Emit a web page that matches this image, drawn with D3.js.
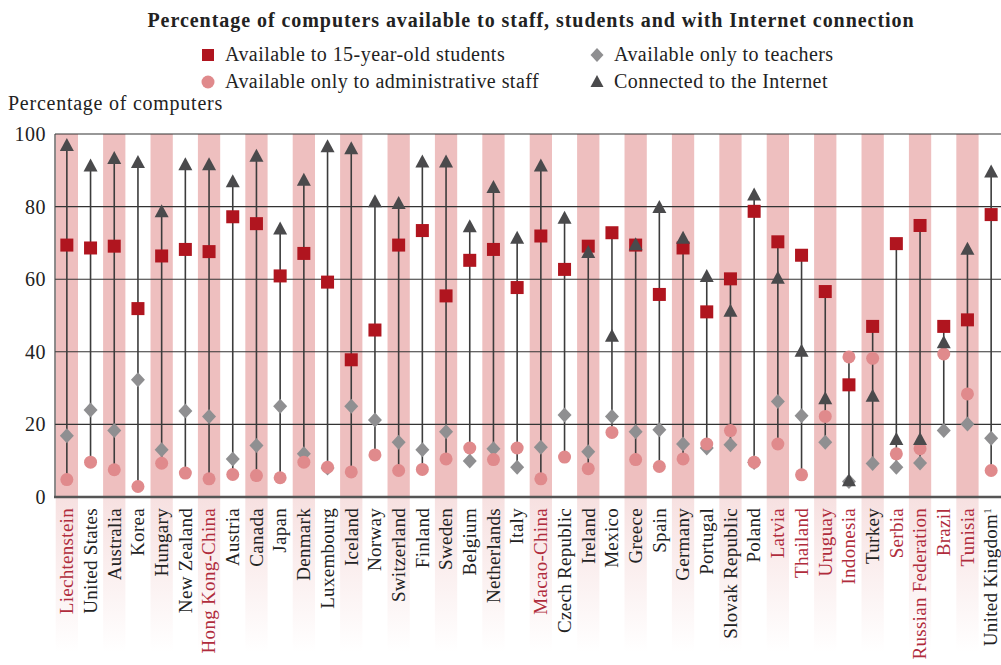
<!DOCTYPE html>
<html>
<head>
<meta charset="utf-8">
<script src="https://cdn.jsdelivr.net/npm/d3@7/dist/d3.min.js"></script>
<style>
  html, body { margin: 0; padding: 0; background: #fff; }
  svg { display: block; }
  text { font-family: "Liberation Serif", "DejaVu Serif", serif; }
</style>
</head>
<body>
<svg id="chart" width="1001" height="665"></svg>
<script>
const countries = ["Liechtenstein","United States","Australia","Korea","Hungary","New Zealand","Hong Kong-China","Austria","Canada","Japan","Denmark","Luxembourg","Iceland","Norway","Switzerland","Finland","Sweden","Belgium","Netherlands","Italy","Macao-China","Czech Republic","Ireland","Mexico","Greece","Spain","Germany","Portugal","Slovak Republic","Poland","Latvia","Thailand","Uruguay","Indonesia","Turkey","Serbia","Russian Federation","Brazil","Tunisia","United Kingdom"];
const partners = ["Liechtenstein","Hong Kong-China","Macao-China","Latvia","Thailand","Uruguay","Indonesia","Serbia","Russian Federation","Brazil","Tunisia"];
const students = [69.4,68.6,69.1,51.9,66.4,68.2,67.6,77.2,75.3,60.9,67.1,59.2,37.8,46.0,69.4,73.4,55.4,65.2,68.2,57.7,71.9,62.7,69.1,72.8,69.4,55.8,68.6,51.0,60.1,78.7,70.3,66.6,56.6,30.9,47.0,69.8,74.8,47.0,48.8,77.8];
const adminStaff = [4.8,9.6,7.5,2.9,9.3,6.6,5.0,6.2,5.9,5.3,9.6,8.2,6.9,11.6,7.3,7.6,10.5,13.5,10.3,13.5,5.0,11.0,7.8,17.8,10.3,8.4,10.5,14.6,18.3,9.6,14.6,6.1,22.2,38.6,38.2,11.9,13.3,39.4,28.4,7.3];
const teachers = [16.9,24.0,18.3,32.3,13.0,23.7,22.2,10.5,14.2,25.0,11.9,8.0,25.0,21.2,15.1,13.0,18.0,9.9,13.3,8.2,13.7,22.6,12.5,22.2,18.0,18.5,14.6,13.5,14.4,9.5,26.3,22.4,15.1,4.3,9.2,8.2,9.4,18.3,20.1,16.2];
const internet = [97.0,91.3,93.4,92.3,78.7,91.7,91.7,87.0,94.0,74.0,87.4,96.6,96.1,81.5,81.0,92.4,92.4,74.6,85.4,71.4,91.3,76.9,67.5,44.4,69.6,79.9,71.4,60.9,51.3,83.3,60.4,40.3,27.2,4.6,27.9,16.0,16.0,42.6,68.4,89.7];
const yTicks = [0,20,40,60,80,100];
const titleText = "Percentage of computers available to staff, students and with Internet connection";
const yTitle = "Percentage of computers";
const legendItems = ["Available to 15-year-old students","Available only to administrative staff","Available only to teachers","Connected to the Internet"];

const C = { square: "#b0151f", circle: "#e08a8c", diamond: "#8f8f91", tri: "#4a4a4c", stem: "#3c3c3c", band: "#eebfbf", red: "#b02c3c" };

const svg = d3.select("#chart");
const L = 55, R = 1003, T = 134, B = 497;
const x = d3.scaleBand().domain(countries).range([L, R]).paddingInner(0).paddingOuter(0);
const y = d3.scaleLinear().domain([0, 100]).range([B, T]);

const defs = svg.append("defs");
const g = defs.append("linearGradient").attr("id", "fade").attr("x1", 0).attr("y1", 0).attr("x2", 0).attr("y2", 1);
g.append("stop").attr("offset", 0).attr("stop-color", "#f1cccc").attr("stop-opacity", 0.6);
g.append("stop").attr("offset", 1).attr("stop-color", "#f1cccc").attr("stop-opacity", 0);

// bands
const bandIdx = countries.filter((d, i) => i % 2 === 0);
const bw = x.bandwidth() * 0.94;
svg.append("g").selectAll("rect").data(bandIdx).join("rect")
  .attr("x", d => x(d) + (x.bandwidth() - bw) / 2).attr("width", bw)
  .attr("y", T).attr("height", B - T).attr("fill", C.band);
svg.append("g").selectAll("rect").data(bandIdx).join("rect")
  .attr("x", d => x(d) + (x.bandwidth() - bw) / 2).attr("width", bw)
  .attr("y", B).attr("height", 155).attr("fill", "url(#fade)");

// grid
svg.append("g").selectAll("line").data(yTicks.filter(t => t > 0)).join("line")
  .attr("x1", L).attr("x2", 1001).attr("y1", d => y(d)).attr("y2", d => y(d))
  .attr("stroke", "#333").attr("stroke-width", 1.1);
svg.append("line").attr("x1", L).attr("x2", L).attr("y1", T).attr("y2", B).attr("stroke", "#444").attr("stroke-width", 1.2);
svg.append("line").attr("x1", L - 1).attr("x2", 1001).attr("y1", B).attr("y2", B).attr("stroke", "#555").attr("stroke-width", 2.5);

// y axis
const ya = svg.append("g").attr("transform", `translate(${L},0)`)
  .call(d3.axisLeft(y).tickValues(yTicks).tickSize(0).tickPadding(9));
ya.select(".domain").remove();
ya.selectAll("text").attr("font-size", 20).attr("fill", "#222").attr("font-family", "Liberation Serif, serif").attr("letter-spacing", 0.5);

svg.append("text").attr("x", 8).attr("y", 110).attr("font-size", 20).attr("letter-spacing", 0.75).attr("fill", "#222").text(yTitle);

// data rows
const rows = countries.map((c, i) => ({ c, s: students[i], a: adminStaff[i], t: teachers[i], n: internet[i] }));
const cx = d => x(d.c) + x.bandwidth() / 2;

svg.append("g").selectAll("line").data(rows).join("line")
  .attr("x1", cx).attr("x2", cx)
  .attr("y1", d => y(Math.min(d.s, d.a, d.t, d.n)))
  .attr("y2", d => y(Math.max(d.s, d.a, d.t, d.n)))
  .attr("stroke", C.stem).attr("stroke-width", 1.6);

const diamondPath = "M0,-7.5L7,0L0,7.5L-7,0Z";
const triPath = "M0,-8L7,5L-7,5Z";

svg.append("g").selectAll("path").data(rows).join("path")
  .attr("d", diamondPath).attr("fill", C.diamond)
  .attr("transform", d => `translate(${cx(d)},${y(d.t)})`);
svg.append("g").selectAll("circle").data(rows).join("circle")
  .attr("cx", cx).attr("cy", d => y(d.a)).attr("r", 6.5).attr("fill", C.circle);
svg.append("g").selectAll("rect").data(rows).join("rect")
  .attr("x", d => cx(d) - 6.5).attr("y", d => y(d.s) - 6.5).attr("width", 13).attr("height", 13).attr("fill", C.square);
svg.append("g").selectAll("path").data(rows).join("path")
  .attr("d", triPath).attr("fill", C.tri)
  .attr("transform", d => `translate(${cx(d)},${y(d.n) + 1})`);

// x labels
const lab = svg.append("g").selectAll("text").data(countries).join("text")
  .attr("transform", d => `translate(${x(d) + x.bandwidth() / 2},508) rotate(-90)`)
  .attr("dy", "0.33em").attr("text-anchor", "end").attr("font-size", 19).attr("letter-spacing", 0.3)
  .attr("fill", d => partners.includes(d) ? C.red : "#222");
lab.each(function(d) {
  const t = d3.select(this);
  t.append("tspan").text(d);
  if (d === "United Kingdom") t.append("tspan").attr("font-size", 11).attr("baseline-shift", "super").text("1");
});

// title
svg.append("text").attr("x", 531).attr("y", 27).attr("text-anchor", "middle")
  .attr("font-size", 20).attr("letter-spacing", 0.95).attr("font-weight", "bold").attr("fill", "#222").text(titleText);

// legend
const lg = svg.append("g");
const lpos = [[208, 55], [208, 82], [597, 55], [597, 82]];
lg.append("rect").attr("x", lpos[0][0] - 6).attr("y", lpos[0][1] - 6).attr("width", 12).attr("height", 12).attr("fill", C.square);
lg.append("circle").attr("cx", lpos[1][0]).attr("cy", lpos[1][1]).attr("r", 6.5).attr("fill", C.circle);
lg.append("path").attr("d", "M0,-7L6.5,0L0,7L-6.5,0Z").attr("fill", C.diamond).attr("transform", `translate(${lpos[2][0]},${lpos[2][1]})`);
lg.append("path").attr("d", "M0,-7L6.5,5L-6.5,5Z").attr("fill", C.tri).attr("transform", `translate(${lpos[3][0]},${lpos[3][1]})`);
lg.selectAll("text").data(legendItems).join("text")
  .attr("x", (d, i) => lpos[i][0] + 17).attr("y", (d, i) => lpos[i][1] + 6)
  .attr("font-size", 20).attr("letter-spacing", 0.45).attr("fill", "#222").text(d => d);
</script>
</body>
</html>
